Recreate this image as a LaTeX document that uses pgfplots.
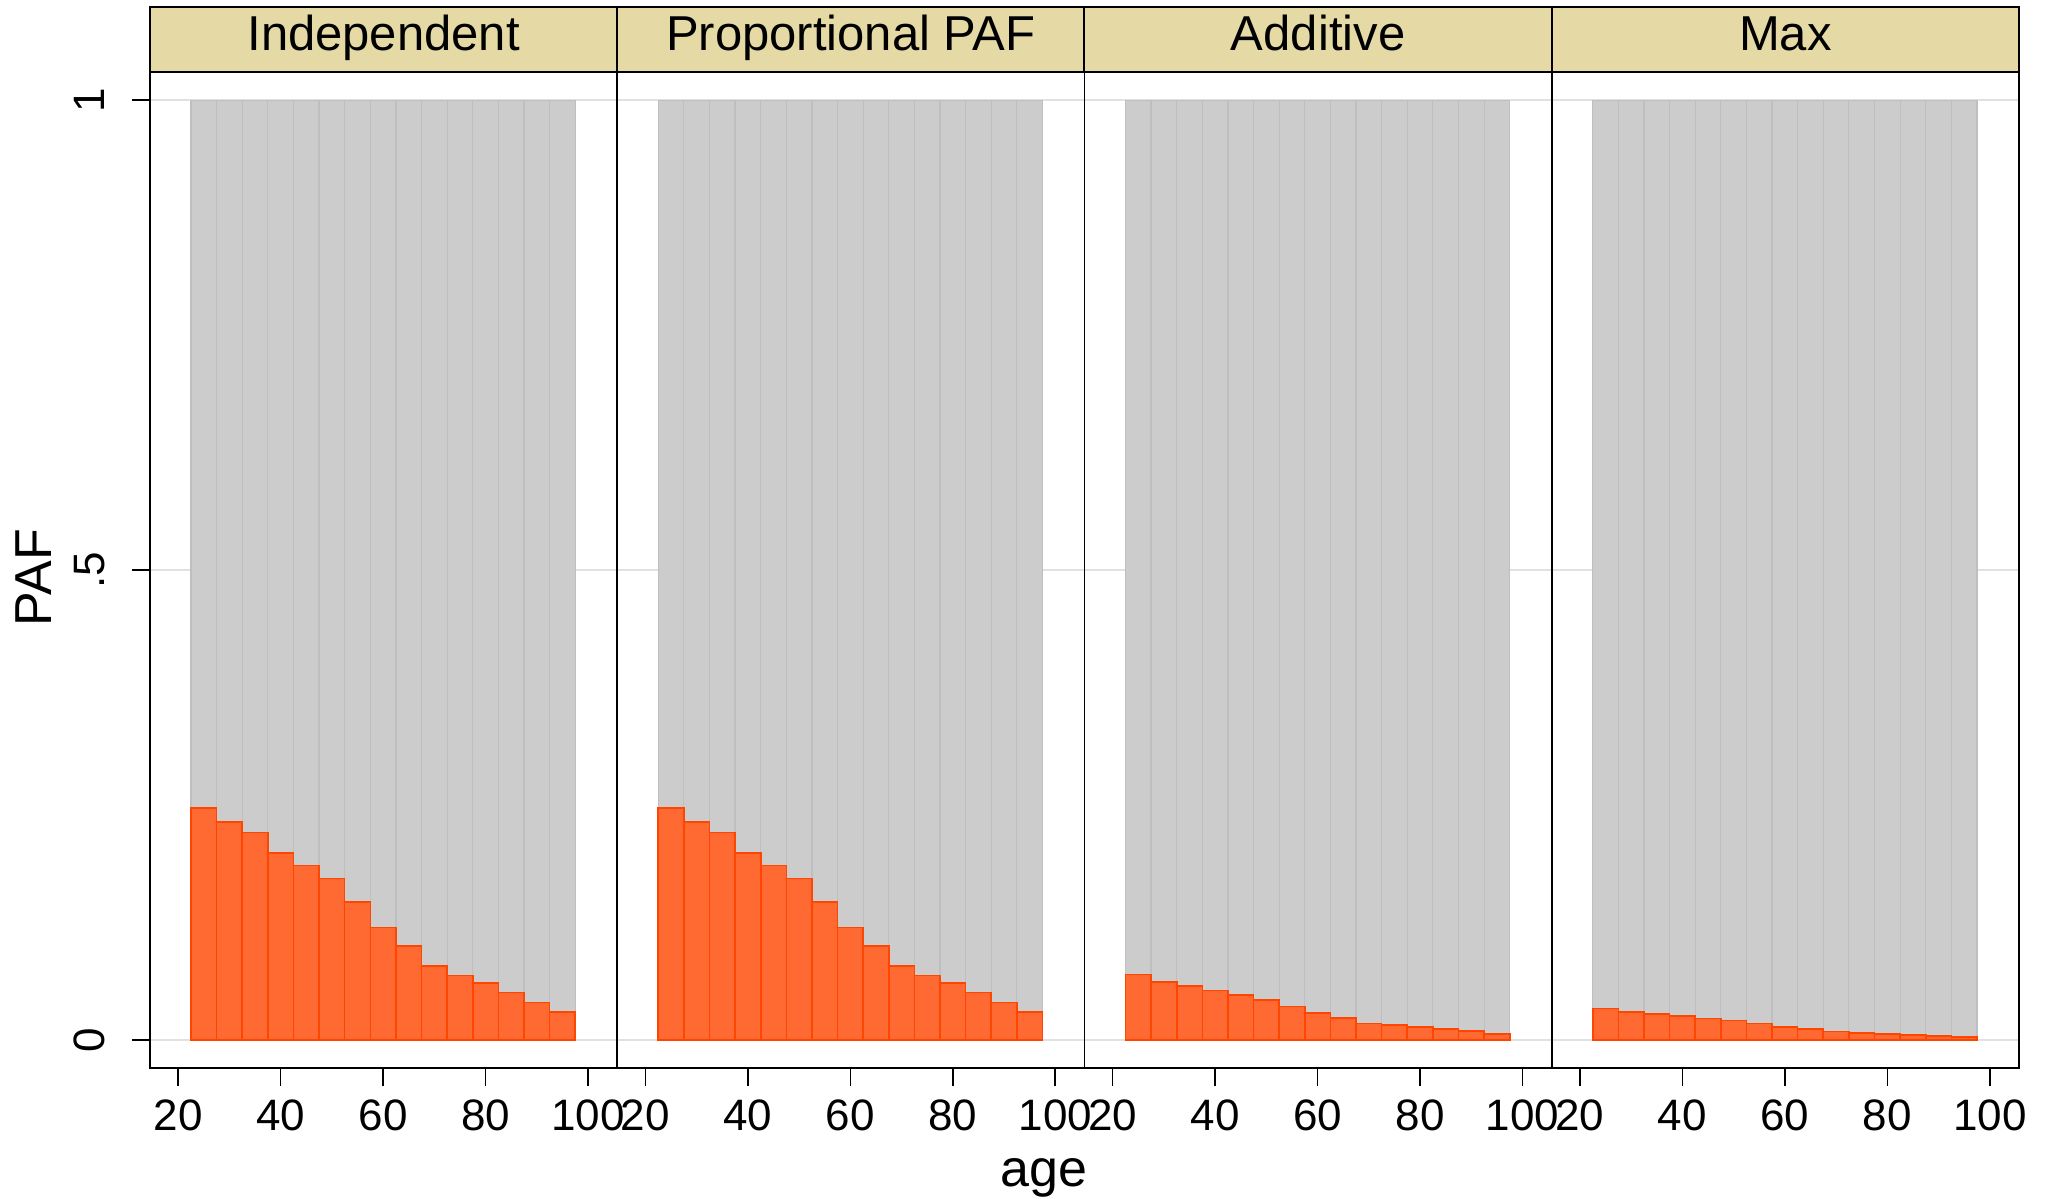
\documentclass[border=0pt]{standalone}
\usepackage{fontspec}
\setmainfont{Liberation Sans}
\usepackage{pgfplots}
\usepackage{pgfplotstable}
\pgfplotsset{compat=1.18}

\definecolor{barred}{RGB}{255,106,51}
\definecolor{baredge}{RGB}{255,69,0}
\definecolor{bargray}{RGB}{204,204,204}
\definecolor{grayedge}{RGB}{191,191,191}
\definecolor{stripc}{RGB}{229,218,165}
\definecolor{gridc}{RGB}{225,225,225}

% PAF by age group, one column per panel
\pgfplotstableread{
age full ind prop add max
25 1 0.247 0.247 0.070 0.0336
30 1 0.232 0.232 0.062 0.0300
35 1 0.221 0.221 0.058 0.0280
40 1 0.199 0.199 0.053 0.0260
45 1 0.186 0.186 0.048 0.0230
50 1 0.172 0.172 0.043 0.0210
55 1 0.147 0.147 0.036 0.0180
60 1 0.120 0.120 0.029 0.0140
65 1 0.100 0.100 0.024 0.0120
70 1 0.079 0.079 0.018 0.0092
75 1 0.069 0.069 0.016 0.0078
80 1 0.061 0.061 0.014 0.0067
85 1 0.051 0.051 0.012 0.0057
90 1 0.040 0.040 0.0096 0.0046
95 1 0.030 0.030 0.0067 0.0032
}\paf

\pgfplotsset{
  every axis title/.style={at={(0.5,1)}, anchor=south, fill=stripc, draw=black,
      line width=0.5pt, minimum width=116.81pt, minimum height=16.25pt,
      text height=8.8pt, text depth=3.5pt,
      inner sep=0pt, outer sep=0pt, font=\fontsize{12.25}{14}\selectfont},
  panel/.style={
    scale only axis, width=116.81pt, height=249pt,
    xmin=14.5, xmax=105.7, ymin=-0.0295, ymax=1.0301,
    xtick={20,40,60,80,100}, ytick={0,0.5,1},
    tick pos=left, tick align=outside, major tick length=4.5pt,
    ymajorgrids, major grid style={gridc, line width=0.5pt},
    axis line style={line width=0.4pt},
    every tick/.style={black, line width=0.4pt},
    ticklabel style={font=\fontsize{11}{13}\selectfont},
    /pgf/number format/assume math mode=true,
    xticklabel style={anchor=north, inner sep=0pt, yshift=-3.25pt},
  },
  graybar/.style={ybar, bar width=5, bar shift=0pt, fill=bargray, draw=grayedge, line width=0.3pt},
  redbar/.style={ybar, bar width=5, bar shift=0pt, fill=barred, draw=baredge, line width=0.4pt},
}

\begin{document}
\begin{tikzpicture}
\useasboundingbox (0,0) rectangle (511.25pt,299.75pt);

\begin{axis}[panel, at={(37.5pt,32.75pt)}, anchor=south west, title={Independent},
  yticklabels={0,.5,1}, yticklabel style={xshift=-7pt, rotate=90, anchor=base, inner sep=0pt}]
\addplot[graybar] table[x=age, y=full] {\paf};
\addplot[redbar] table[x=age, y=ind] {\paf};
\end{axis}

\begin{axis}[panel, at={(154.31pt,32.75pt)}, anchor=south west, title={Proportional PAF},
  yticklabels={}, ytick style={draw=none}]
\addplot[graybar] table[x=age, y=full] {\paf};
\addplot[redbar] table[x=age, y=prop] {\paf};
\end{axis}

\begin{axis}[panel, at={(271.12pt,32.75pt)}, anchor=south west, title={Additive},
  yticklabels={}, ytick style={draw=none}]
\addplot[graybar] table[x=age, y=full] {\paf};
\addplot[redbar] table[x=age, y=add] {\paf};
\end{axis}

\begin{axis}[panel, at={(387.93pt,32.75pt)}, anchor=south west, title={Max},
  yticklabels={}, ytick style={draw=none}]
\addplot[graybar] table[x=age, y=full] {\paf};
\addplot[redbar] table[x=age, y=max] {\paf};
\end{axis}

\node[rotate=90, anchor=base, inner sep=0pt, font=\fontsize{13}{15}\selectfont] at (13pt,155.4pt) {PAF};
\node[anchor=base, inner sep=0pt, font=\fontsize{13}{15}\selectfont] at (261pt,3pt) {age};
\end{tikzpicture}
\end{document}
